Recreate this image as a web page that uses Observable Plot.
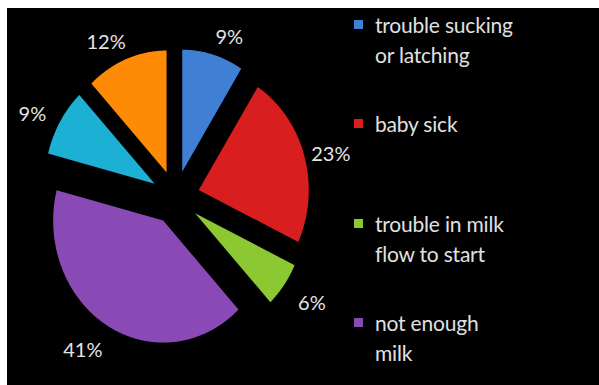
<!DOCTYPE html>
<html>
<head>
<meta charset="utf-8">
<script src="https://cdn.jsdelivr.net/npm/d3@7"></script>
<script src="https://cdn.jsdelivr.net/npm/@observablehq/plot@0.6"></script>
<style>
  html, body { margin: 0; padding: 0; background: #fff; }
  #frame { position: absolute; left: 7px; top: 8px; width: 592px; height: 377px; background: #000; overflow: hidden; }
  #chart { position: absolute; left: 0; top: 0; }
  #legend { position: absolute; left: 0; top: 0; font-family: Lato, "Open Sans", sans-serif; font-size: 21px; letter-spacing: -0.2px; color: #e0e0e0; }
  .item { position: absolute; left: 347px; }
  .swatch { position: absolute; left: 0; top: 10px; width: 9px; height: 9px; }
  .text { position: absolute; left: 21px; top: 0; line-height: 30px; white-space: nowrap; }
</style>
</head>
<body>
<div id="frame">
  <div id="chart"></div>
  <div id="legend"></div>
</div>
<script>
// Reasons, in clockwise order from 12 o'clock
const categories = [
  "trouble sucking or latching",
  "baby sick",
  "trouble in milk flow to start",
  "not enough milk",
  "category 5",
  "category 6"
];
const values = [9, 23, 6, 41, 9, 12];
const colors = ["#3f80d4", "#d81e1e", "#8cc832", "#8a4ab6", "#1cb0d4", "#ff8a05"];

// Legend entries (only the first four are listed), with their line breaks
const legendLines = [
  ["trouble sucking", "or latching"],
  ["baby sick"],
  ["trouble in milk", "flow to start"],
  ["not enough", "milk"]
];

const W = 592, H = 377;
const cx = 168, cy = 189;     // pie centre in pixels
const rx = 110, ry = 122;     // pixel size of one radius unit
const explode = 0.22;         // slice offset, in radii

const arcs = d3.pie().sort(null).value(d => d)(values);

// Slice outlines in radius units (y grows downward)
const rows = [];
arcs.forEach((a, i) => {
  const mid = (a.startAngle + a.endAngle) / 2;
  const ox = explode * Math.sin(mid), oy = -explode * Math.cos(mid);
  rows.push({name: categories[i], x: ox, y: oy});
  const n = Math.max(2, Math.ceil((a.endAngle - a.startAngle) / 0.01));
  for (let k = 0; k <= n; ++k) {
    const t = a.startAngle + (a.endAngle - a.startAngle) * k / n;
    rows.push({name: categories[i], x: ox + Math.sin(t), y: oy - Math.cos(t)});
  }
});

// Percentage labels outside each slice; wider text reach near the top and bottom
const labels = arcs.map((a, i) => {
  const mid = (a.startAngle + a.endAngle) / 2;
  const s = Math.sin(mid), c = Math.cos(mid);
  return {
    x: s * (160 + 45 * (1 - Math.abs(s))) / rx,
    y: (-c * 172 + 5) / ry,
    text: values[i] + "%"
  };
});

const chart = Plot.plot({
  width: W,
  height: H,
  margin: 0,
  style: {background: "#000", fontFamily: "Lato, 'Open Sans', sans-serif"},
  x: {domain: [-cx / rx, (W - cx) / rx], range: [0, W], axis: null},
  y: {domain: [-cy / ry, (H - cy) / ry], range: [0, H], axis: null},
  color: {domain: categories, range: colors},
  marks: [
    Plot.line(rows, {x: "x", y: "y", z: "name", fill: "name", stroke: "none"}),
    Plot.text(labels, {x: "x", y: "y", text: "text", fill: "#e4e4e4", fontSize: 20})
  ]
});
document.getElementById("chart").appendChild(chart);

// Legend
const legend = document.getElementById("legend");
legendLines.forEach((lines, i) => {
  const item = document.createElement("div");
  item.className = "item";
  item.style.top = (2 + i * 99.3) + "px";
  const sw = document.createElement("div");
  sw.className = "swatch";
  sw.style.background = colors[i];
  const tx = document.createElement("div");
  tx.className = "text";
  tx.innerHTML = lines.join("<br>");
  item.appendChild(sw);
  item.appendChild(tx);
  legend.appendChild(item);
});
</script>
</body>
</html>
